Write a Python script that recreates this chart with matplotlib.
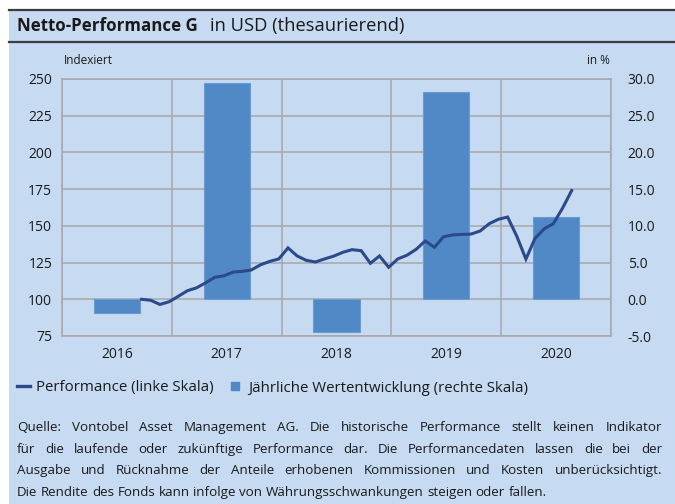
import numpy as np
import pandas as pd
import matplotlib
matplotlib.use("Agg")
import matplotlib.pyplot as plt
from matplotlib.lines import Line2D
from matplotlib.patches import Rectangle

plt.rcParams['font.family'] = ['Open Sans', 'DejaVu Sans']

# Daten
years = ["2016", "2017", "2018", "2019", "2020"]
annual_pct = [-1.9, 29.5, -4.5, 28.2, 11.2]  # Jährliche Wertentwicklung in %

perf_start = "2016-09-30"  # erster Monatswert (indexiert = 100)
performance = [100.0, 99.3, 96.5, 98.3, 102.0, 105.8, 107.8, 111.2, 115.0, 116.0, 118.5, 119.0,
               120.0, 123.5, 125.8, 127.5, 135.0, 129.5, 126.5, 125.4, 127.5, 129.4, 132.0, 133.8,
               133.1, 124.5, 129.5, 121.8, 127.5, 130.0, 134.0, 139.7, 135.4, 142.6, 143.8, 144.2,
               144.4, 146.5, 151.5, 154.5, 156.0, 143.0, 127.4, 141.5, 148.0, 151.5, 162.0, 174.0]

left_ticks = np.arange(75, 251, 25)
right_ticks = np.arange(-5, 31, 5)

title_bold = "Netto-Performance G"
title_rest = "in USD (thesaurierend)"
legend_labels = ["Performance (linke Skala)", "Jährliche Wertentwicklung (rechte Skala)"]
disclaimer = [
    "Quelle: Vontobel Asset Management AG. Die historische Performance stellt keinen Indikator",
    "für die laufende oder zukünftige Performance dar. Die Performancedaten lassen die bei der",
    "Ausgabe und Rücknahme der Anteile erhobenen Kommissionen und Kosten unberücksichtigt.",
    "Die Rendite des Fonds kann infolge von Währungsschwankungen steigen oder fallen.",
]

bg = "#c6daf1"
bar_col = "#5089c6"
line_col = "#2a4a8a"
grid_col = "#a8a8a8"
txt_col = "#1a1a1a"

W, H = 675, 504


def fx(x):  # Pixel -> Figure-Koordinaten
    return x / W


def fy(y):
    return 1 - y / H


fig = plt.figure(figsize=(W / 100, H / 100), dpi=100)
fig.patches.append(Rectangle((fx(9), 0), 1 - fx(9), fy(10), transform=fig.transFigure,
                             facecolor=bg, edgecolor="none", zorder=-1))
for yl in (10, 42):
    fig.add_artist(Line2D([fx(9), 1], [fy(yl), fy(yl)], transform=fig.transFigure,
                          color="#3c3c3c", lw=1.6))

fig.text(fx(17), fy(31), title_bold, fontsize=12.2, fontweight="bold", va="baseline", color=txt_col)
fig.text(fx(210), fy(31), title_rest, fontsize=13.2, va="baseline", color=txt_col)

fig.text(fx(64), fy(60), "Indexiert", fontsize=8.5, va="center", color=txt_col)
fig.text(fx(610), fy(60), "in %", fontsize=8.5, va="center", ha="right", color=txt_col)

# Achse für Balken (rechte Skala) unten, Linie (linke Skala) darüber
ax = fig.add_axes([fx(62), fy(336), fx(611) - fx(62), fy(79) - fy(336)])
ax.patch.set_visible(False)
ax.set_axisbelow(True)
xc = np.arange(len(years))
ax.bar(xc, annual_pct, width=0.42, color=bar_col, edgecolor="#6a9bd1", linewidth=0.8, zorder=2)
ax.set_xlim(-0.5, len(years) - 0.5)
ax.set_ylim(-5, 30)
ax.set_yticks(right_ticks)
ax.set_yticklabels([f"{v:.1f}" for v in right_ticks])
ax.set_xticks(xc)
ax.set_xticklabels(years)
ax.set_xticks(np.arange(-0.5, len(years)), minor=True)
ax.grid(axis="y", which="major", color=grid_col, lw=1.1)
ax.grid(axis="x", which="minor", color=grid_col, lw=1.1)
ax.tick_params(axis="both", which="both", length=0, labelsize=10, colors=txt_col)
ax.tick_params(axis="x", pad=8)
for s in ax.spines.values():
    s.set_color(grid_col)
    s.set_linewidth(1.1)

ax2 = ax.twinx()
dates = pd.date_range(perf_start, periods=len(performance), freq="ME")
xpos = (dates.year - int(years[0])) + (dates.month - 0.3) / 12 - 0.5
ax2.plot(xpos, performance, color=line_col, lw=2.2, solid_joinstyle="miter")
ax2.set_ylim(75, 250)
ax2.set_yticks(left_ticks)
for s in ax2.spines.values():
    s.set_visible(False)

ax.yaxis.tick_right()
ax2.yaxis.tick_left()
ax.tick_params(axis="y", pad=12, labelsize=10, length=0)
ax2.tick_params(axis="y", pad=7, labelsize=10, length=0, colors=txt_col)

# Legende
handles = [Line2D([], [], color=line_col, lw=2.4),
           Line2D([], [], marker="s", ls="none", color=bar_col, markersize=6)]
fig.legend(handles, legend_labels, loc="center left", bbox_to_anchor=(fx(17), fy(388)),
           ncol=2, frameon=False, fontsize=10.8, handlelength=0.85, handletextpad=0.45,
           columnspacing=0.95, borderaxespad=0, borderpad=0, labelcolor=txt_col)

# Blocksatz für den Hinweistext
renderer = fig.canvas.get_renderer()
fs_body = 9.6
x0, x1 = 17, 662
line_base = [431, 453, 474, 496]
for i, (line, yy) in enumerate(zip(disclaimer, line_base)):
    words = line.split(" ")
    objs = [fig.text(0, fy(yy), w, fontsize=fs_body, va="baseline", color=txt_col) for w in words]
    widths = [o.get_window_extent(renderer).width for o in objs]
    if i < len(disclaimer) - 1:
        gap = (x1 - x0 - sum(widths)) / (len(words) - 1)
    else:
        sp = fig.text(0, 0, "a a", fontsize=fs_body)
        sp2 = fig.text(0, 0, "aa", fontsize=fs_body)
        gap = sp.get_window_extent(renderer).width - sp2.get_window_extent(renderer).width
        sp.remove()
        sp2.remove()
    x = x0
    for o, w in zip(objs, widths):
        o.set_x(fx(x))
        x += w + gap

fig.savefig("out.png", dpi=100)
